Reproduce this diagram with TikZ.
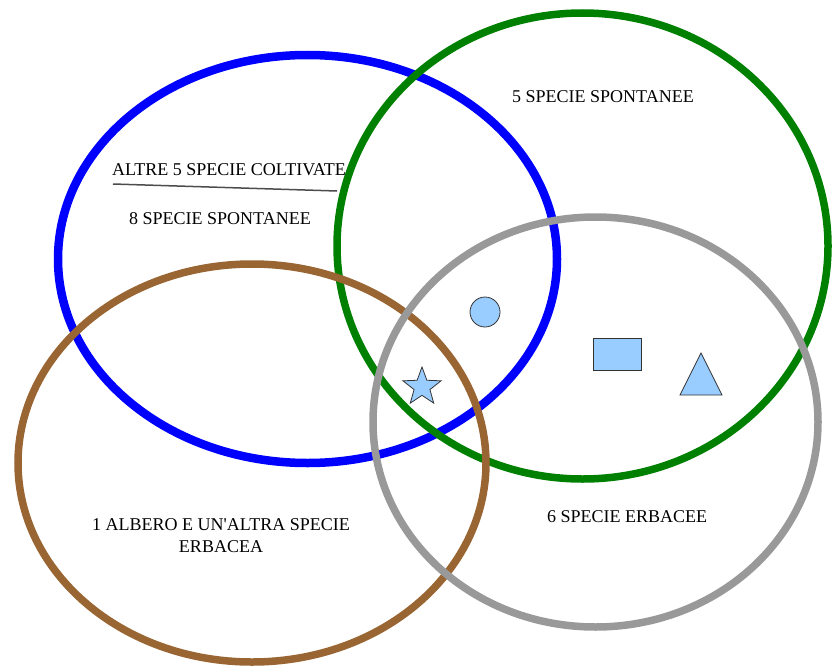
\documentclass[tikz,border=0pt]{standalone}
\usepackage{fontspec}
\setmainfont{Liberation Serif}
\usepackage{xcolor}
\usetikzlibrary{shapes.geometric}
\definecolor{bordoblu}{HTML}{0000FF}
\definecolor{bordoverde}{HTML}{008000}
\definecolor{bordomarrone}{HTML}{996633}
\definecolor{bordogrigio}{HTML}{999999}
\definecolor{azzurro}{HTML}{99CCFF}
\tikzset{
  insieme/.style={line width=7.5pt},
  simbolo/.style={fill=azzurro,draw=black!80,line width=0.8pt,inner sep=0pt},
  etichetta/.style={font=\fontsize{18}{22}\selectfont,inner sep=0pt,align=center}
}

\begin{document}
\begin{tikzpicture}[x=1pt,y=-1pt]
\useasboundingbox (0,0) rectangle (835,669);
\coordinate (Cb) at (307.5,259);
\coordinate (Cv) at (582.5,246);
\coordinate (Cm) at (252,463);
\coordinate (Cg) at (595.5,422);
\draw[insieme,bordoblu,line width=8.5pt] (Cb) ellipse [x radius=249.5pt, y radius=204pt];
\draw[insieme,bordoverde] (Cv) ellipse [x radius=245.5pt, y radius=233pt];
\draw[insieme,bordomarrone] (Cm) ellipse [x radius=234pt, y radius=199pt];
\draw[insieme,bordogrigio] (Cg) ellipse [x radius=222.5pt, y radius=205pt];
\node[etichetta] (coltivate) at (229,170) {ALTRE 5 SPECIE COLTIVATE};
\coordinate (lineaA) at (113,184);
\coordinate (lineaB) at (337,191);
\draw[black!70,line width=1.5pt] (lineaA) -- (lineaB);
\node[etichetta] (spontB) at (220,219) {8 SPECIE SPONTANEE};
\node[etichetta] (spontV) at (603,97) {5 SPECIE SPONTANEE};
\node[etichetta] (erbacee) at (627,517) {6 SPECIE ERBACEE};
\node[etichetta] (albero) at (221,536) {1 ALBERO E UN\textquotesingle ALTRA SPECIE\\ERBACEA};
\node[simbolo,circle,minimum size=30pt] (cerchio) at (485,312) {};
\node[simbolo,rectangle,minimum width=48pt,minimum height=32pt] (rettangolo) at (617,354) {};
\node[simbolo,star,star points=5,star point ratio=2.4,minimum size=40pt] (stella) at (422,387) {};
\coordinate (triA) at (680,395);
\coordinate (triB) at (701,353);
\coordinate (triC) at (722,395);
\filldraw[simbolo] (triA) -- (triB) -- (triC) -- cycle;
\end{tikzpicture}
\end{document}
